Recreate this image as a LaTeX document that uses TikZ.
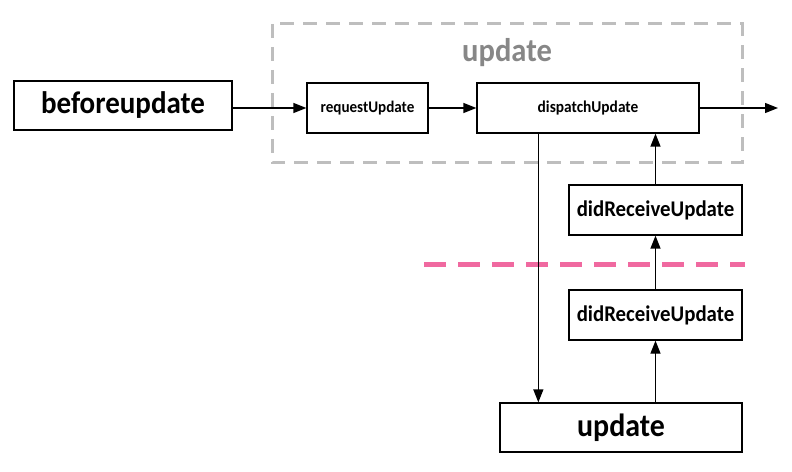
\documentclass[tikz,border=0pt]{standalone}
\usepackage{fontspec}
\usepackage{graphicx}
\setmainfont{Carlito}
\usetikzlibrary{arrows.meta}
\definecolor{pinkline}{RGB}{240,105,160}
\definecolor{grayline}{RGB}{190,190,190}
\definecolor{graytext}{RGB}{135,135,135}
\newcommand\cnd[1]{\scalebox{0.93}[1]{#1}}
\tikzset{
  box/.style={draw=black, line width=1.3bp, fill=white, inner sep=0pt, align=center},
  conn/.style={line width=1.3bp, -{Triangle[length=13bp,width=10bp]}},
}
\begin{document}
\begin{tikzpicture}[x=1bp,y=-1bp]
\useasboundingbox (0,0) rectangle (792,472);
% group frame
\draw[grayline, line width=3bp, dash pattern=on 14bp off 9bp] (272,24) rectangle (742,163);
\node[text=graytext, font=\bfseries\fontsize{33}{36}\selectfont] (lbl) at (507,53) {\cnd{update}};
% nodes
\node[box, minimum width=218bp, minimum height=49bp, font=\bfseries\fontsize{31.3}{34}\selectfont] (before) at (123,105.5) {\cnd{beforeupdate}};
\node[box, minimum width=121bp, minimum height=50bp, font=\bfseries\fontsize{16.3}{18}\selectfont] (request) at (367.5,108) {\cnd{requestUpdate}};
\node[box, minimum width=222bp, minimum height=50bp, font=\bfseries\fontsize{16.6}{18}\selectfont] (dispatch) at (588,108) {\cnd{dispatchUpdate}};
\node[box, minimum width=173bp, minimum height=50bp, font=\bfseries\fontsize{22.5}{25}\selectfont] (dru1) at (655.5,210) {\cnd{didReceiveUpdate}};
\node[box, minimum width=173bp, minimum height=50bp, font=\bfseries\fontsize{22.5}{25}\selectfont] (dru2) at (655.5,315) {\cnd{didReceiveUpdate}};
\node[box, minimum width=242bp, minimum height=49bp, font=\bfseries\fontsize{32.3}{35}\selectfont] (upd) at (621,427.5) {\cnd{update}};
\coordinate (out) at (778,108);
\coordinate (pl) at (424,265);
\coordinate (pr) at (745,265);
% pink separator
\draw[pinkline, line width=5bp, dash pattern=on 22bp off 12bp] (pl) -- (pr);
% connectors
\draw[conn] (before.east |- request.west) -- (request.west);
\draw[conn] (request.east) -- (dispatch.west);
\draw[conn] (dispatch.east) -- (out);
\draw[conn] (dispatch.south west) ++(62,0) coordinate (dn) -- (dn |- upd.north);
\draw[conn] (dru2.south |- upd.north) -- (dru2.south);
\draw[conn] (dru2.north) -- (dru1.south);
\draw[conn] (dru1.north) -- (dru1.north |- dispatch.south);
\end{tikzpicture}
\end{document}
